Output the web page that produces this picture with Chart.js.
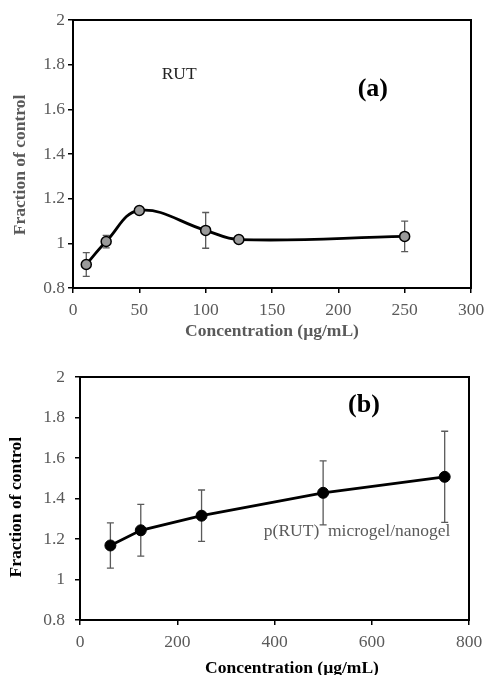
<!DOCTYPE html>
<html><head><meta charset="utf-8">
<script src="https://cdn.jsdelivr.net/npm/chart.js@4.4.0/dist/chart.umd.min.js"></script>
<style>
html,body{margin:0;padding:0;background:#fff;width:485px;height:675px;overflow:hidden;}
#wa{position:absolute;left:0;top:0;width:485px;height:345px;}
#wb{position:absolute;left:0;top:340px;width:485px;height:340px;}
</style></head><body>
<div id="wa"><canvas id="ca"></canvas></div>
<div id="wb"><canvas id="cb"></canvas></div>
<script>
// Panel (a): RUT
const concA = [10, 25, 50, 100, 125, 250];
const fracA = [0.905, 1.008, 1.147, 1.058, 1.017, 1.031];
const errA  = [0.053, 0.028, 0.010, 0.080, 0.015, 0.068];
const xTicksA = [0, 50, 100, 150, 200, 250, 300];
const yTicksA = [0.8, 1.0, 1.2, 1.4, 1.6, 1.8, 2.0];

// Panel (b): p(RUT) microgel/nanogel
const concB = [62.5, 125, 250, 500, 750];
const fracB = [1.168, 1.243, 1.315, 1.428, 1.507];
const errB  = [0.112, 0.128, 0.127, 0.158, 0.225];
const xTicksB = [0, 200, 400, 600, 800];
const yTicksB = [0.8, 1.0, 1.2, 1.4, 1.6, 1.8, 2.0];

const FONT = "'Liberation Serif', 'Times New Roman', serif";
const GREY = '#5a5a5a';

const deco = {
  id: 'deco',
  beforeDatasetsDraw(chart, args, o) {
    const {ctx, scales: {x, y}} = chart;
    ctx.save();
    ctx.strokeStyle = o.errColor;
    ctx.lineWidth = 1.3;
    o.xs.forEach((xv, i) => {
      const px = x.getPixelForValue(xv);
      const t = y.getPixelForValue(o.ys[i] + o.es[i]);
      const b = y.getPixelForValue(o.ys[i] - o.es[i]);
      ctx.beginPath();
      ctx.moveTo(px, t); ctx.lineTo(px, b);
      ctx.moveTo(px - o.cap, t); ctx.lineTo(px + o.cap, t);
      ctx.moveTo(px - o.cap, b); ctx.lineTo(px + o.cap, b);
      ctx.stroke();
    });
    ctx.restore();
  },
  afterDraw(chart, args, o) {
    const {ctx, chartArea: a, scales: {x, y}} = chart;
    ctx.save();
    ctx.strokeStyle = '#000';
    ctx.lineWidth = 2;
    ctx.strokeRect(a.left, a.top, a.right - a.left, a.bottom - a.top);
    ctx.textAlign = 'center';
    ctx.textBaseline = 'middle';
    o.texts.forEach(t => {
      ctx.font = t.font;
      ctx.fillStyle = t.color;
      ctx.fillText(t.text, x.getPixelForValue(t.x), y.getPixelForValue(t.y));
    });
    ctx.restore();
  }
};

function fmt(v) { return String(Number(v.toFixed(1))); }

function makeChart(id, cfg) {
  return new Chart(document.getElementById(id), {
    type: 'line',
    data: {
      datasets: [{
        data: cfg.xs.map((v, i) => ({x: v, y: cfg.ys[i]})),
        borderColor: '#000',
        borderWidth: 2.8,
        tension: cfg.tension,
        pointRadius: cfg.pointRadius,
        pointBackgroundColor: cfg.pointBg,
        pointBorderColor: '#000',
        pointBorderWidth: cfg.pointBorderWidth,
        fill: false
      }]
    },
    options: {
      responsive: true,
      maintainAspectRatio: false,
      animation: false,
      layout: {padding: {top: cfg.padTop, right: cfg.padRight, left: 0, bottom: 0}},
      plugins: {
        legend: {display: false},
        tooltip: {enabled: false},
        deco: {xs: cfg.xs, ys: cfg.ys, es: cfg.es, cap: 3.5, errColor: GREY, texts: cfg.texts}
      },
      scales: {
        x: {
          type: 'linear',
          min: cfg.xTicks[0], max: cfg.xTicks[cfg.xTicks.length - 1],
          afterBuildTicks: s => { s.ticks = cfg.xTicks.map(v => ({value: v})); },
          afterFit: s => { s.height = cfg.xHeight; s.paddingLeft = 0; s.paddingRight = 0; },
          grid: {display: true, drawOnChartArea: false, drawTicks: true, tickLength: 5, color: '#000', lineWidth: 1.5},
          border: {display: true, color: '#000', width: 2},
          ticks: {color: GREY, font: {family: FONT, size: 17.5}, padding: 7, maxRotation: 0, callback: v => fmt(v)},
          title: {display: true, text: cfg.xTitle, color: cfg.titleColor,
                  font: {family: FONT, size: 17.5, weight: 'bold'}, padding: {top: 0, bottom: cfg.xTitlePad}}
        },
        y: {
          type: 'linear',
          min: cfg.yTicks[0], max: cfg.yTicks[cfg.yTicks.length - 1],
          afterBuildTicks: s => { s.ticks = cfg.yTicks.map(v => ({value: v})); },
          afterFit: s => { s.width = cfg.yWidth; s.paddingTop = 0; s.paddingBottom = 0; },
          grid: {display: true, drawOnChartArea: false, drawTicks: true, tickLength: 5, color: '#000', lineWidth: 1.5},
          border: {display: true, color: '#000', width: 2},
          ticks: {color: GREY, font: {family: FONT, size: 17.5}, padding: cfg.yTickPad, callback: v => fmt(v)},
          title: {display: true, text: cfg.yTitle, color: cfg.titleColor,
                  font: {family: FONT, size: 17.5, weight: 'bold'}, padding: {top: cfg.yTitlePad, bottom: 0}}
        }
      }
    },
    plugins: [deco]
  });
}

makeChart('ca', {
  xs: concA, ys: fracA, es: errA, xTicks: xTicksA, yTicks: yTicksA,
  tension: 0.4, pointRadius: 5, pointBg: '#9a9a9a', pointBorderWidth: 1.5,
  padTop: 20, padRight: 14, xHeight: 57, yWidth: 73, xTitlePad: 3, yTitlePad: 10, yTickPad: 3,
  titleColor: GREY,
  xTitle: 'Concentration (µg/mL)',
  yTitle: 'Fraction of control     ',
  texts: [
    {text: 'RUT', x: 80, y: 1.758, font: "17.5px " + FONT, color: '#222'},
    {text: '(a)', x: 226, y: 1.691, font: "bold 26px " + FONT, color: '#000'}
  ]
});

makeChart('cb', {
  xs: concB, ys: fracB, es: errB, xTicks: xTicksB, yTicks: yTicksB,
  tension: 0, pointRadius: 5.5, pointBg: '#000', pointBorderWidth: 1,
  padTop: 37, padRight: 16, xHeight: 60, yWidth: 80, xTitlePad: 1, yTitlePad: 6, yTickPad: 10,
  titleColor: '#000',
  xTitle: '        Concentration (µg/mL)',
  yTitle: 'Fraction of control    ',
  texts: [
    {text: '(b)', x: 584, y: 1.862, font: "bold 26px " + FONT, color: '#000'},
    {text: 'p(RUT)  microgel/nanogel', x: 570, y: 1.239, font: "17.5px " + FONT, color: GREY}
  ]
});
</script>
</body></html>
